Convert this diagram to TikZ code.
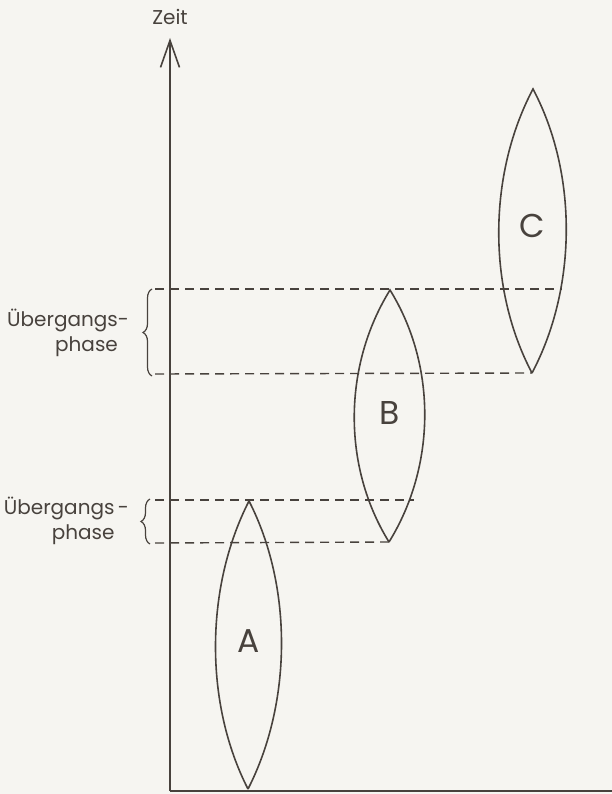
\documentclass[tikz,border=0pt]{standalone}
\usepackage{fontspec}
\setmainfont{Poppins}
\usetikzlibrary{arrows.meta,decorations.pathreplacing}
\definecolor{ink}{HTML}{48423D}
\definecolor{paper}{HTML}{F6F5F1}
\begin{document}
\begin{tikzpicture}[x=1pt,y=-1pt,line width=1.6pt,color=ink,
  lbl/.style={font=\fontsize{33}{33}\selectfont},
  phase/.style={align=right,anchor=east,font=\fontsize{20}{25}\selectfont},
  level/.style={dash pattern=on 9pt off 6pt,line width=1.4pt},
  klammer/.style={decorate,decoration={brace,amplitude=9pt},line width=1.2pt}]
\fill[paper] (0,0) rectangle (612,794);
\useasboundingbox (0,0) rectangle (612,794);
\coordinate (o) at (170,791);
\coordinate (t) at (170,38);
\coordinate (e) at (612,791);
\draw[-{Straight Barb[length=27pt,width=19pt]}] (o) -- (t);
\draw (o) -- (e);
\node[font=\fontsize{20}{20}\selectfont] (zeit) at (170,17) {Zeit};
\coordinate (Au) at (248,789);
\coordinate (Ao) at (249,501);
\coordinate (Bu) at (389,542);
\coordinate (Bo) at (390,290);
\coordinate (Cu) at (532,373);
\coordinate (Co) at (533,89);
\draw (Au) .. controls +(-44,-86) and +(-44,86) .. (Ao) .. controls +(44,86) and +(44,-86) .. (Au);
\draw (Bu) .. controls +(-47,-76) and +(-47,76) .. (Bo) .. controls +(47,76) and +(47,-76) .. (Bu);
\draw (Cu) .. controls +(-45,-85) and +(-45,85) .. (Co) .. controls +(45,85) and +(45,-85) .. (Cu);
\node[lbl] (a) at (249,641) {A};
\node[lbl] (b) at (390,413) {B};
\node[lbl] (c) at (532,226) {C};
\coordinate (l1) at (155,289);
\coordinate (r1) at (562,289);
\coordinate (l2) at (155,374);
\coordinate (l3) at (155,500);
\coordinate (r3) at (414,500);
\coordinate (l4) at (155,543);
\draw[level] (l1) -- (r1);
\draw[level] (l2) -- (Cu);
\draw[level] (l3) -- (r3);
\draw[level] (l4) -- (Bu);
\draw[klammer] (152,376) coordinate (k1u) -- (152,289) coordinate (k1o);
\draw[klammer] (150,544) coordinate (k2u) -- (150,499) coordinate (k2o);
\node[phase] (p1) at (133,333) {Übergangs-\\phase\phantom{-}};
\node[phase] (p2) at (133,521) {Übergangs\,-\\phase\phantom{\,-}};
\end{tikzpicture}
\end{document}
